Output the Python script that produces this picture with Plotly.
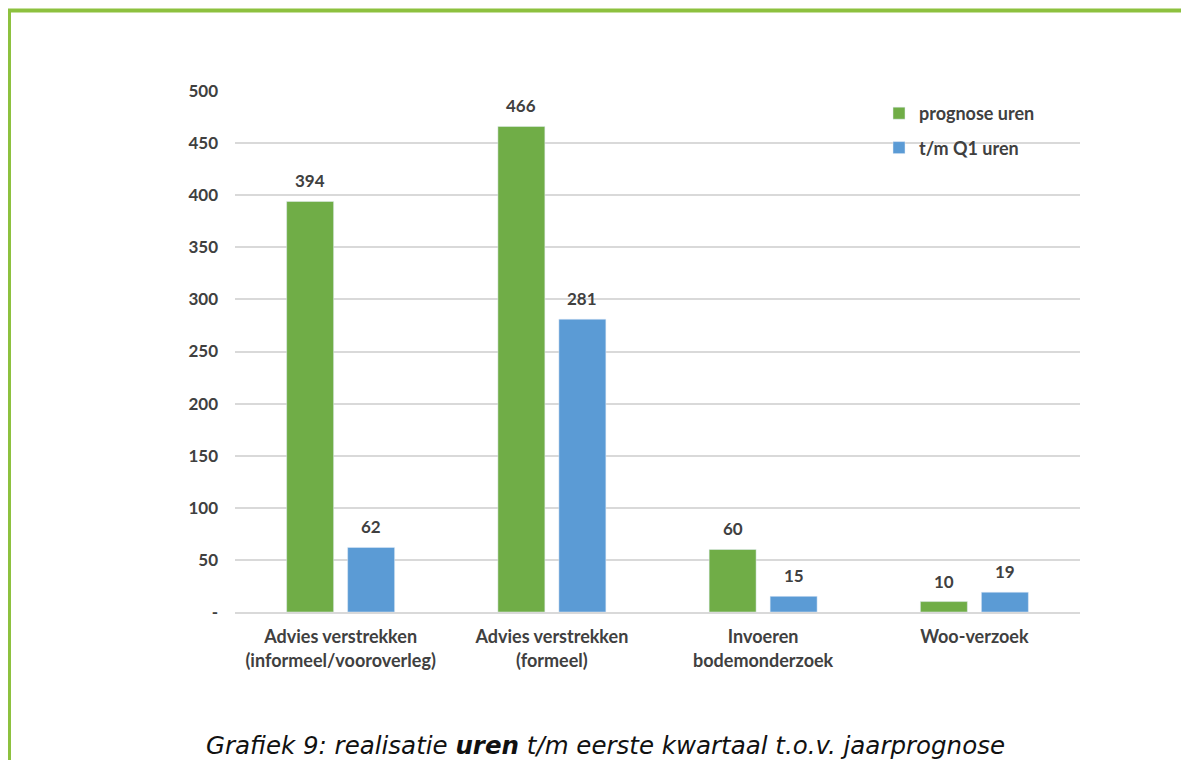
import plotly.graph_objects as go

categories = ["Advies verstrekken<br>(informeel/vooroverleg)", "Advies verstrekken<br>(formeel)",
              "Invoeren<br>bodemonderzoek", "Woo-verzoek"]
prognose = [394, 466, 60, 10]
q1 = [62, 281, 15, 19]
series_names = ["prognose uren", "t/m Q1 uren"]
tick_vals = [0, 50, 100, 150, 200, 250, 300, 350, 400, 450, 500]
tick_text = ["-", "50", "100", "150", "200", "250", "300", "350", "400", "450", "500"]

GREEN = "#70AD47"
BLUE = "#5B9BD5"
TXT = "#404040"
FONT = "Lato"

# the page body adds an 8px offset; design in screen pixels and compensate
OFF = 8
SW, SH = 1189, 760
W, H = SW - OFF, SH - OFF
L, R, T, B = 235, 1080, 91, 612   # plot area in screen pixels


def px(x):
    return (x - L) / (R - L)


def py(y):
    return (B - y) / (B - T)


fig = go.Figure()
fig.add_trace(go.Bar(x=categories, y=prognose, name=series_names[0], marker_color=GREEN,
                     legendgroup="a"))
fig.add_trace(go.Bar(x=categories, y=q1, name=series_names[1], marker_color=BLUE,
                     legendgroup="b"))

BARGAP = 0.4225
GROUPGAP = 0.23
cat_w = (R - L) / len(categories)
slot = cat_w * (1 - BARGAP) / 2

annotations = []
for vals, sign in ((prognose, -1), (q1, 1)):
    for c, v in zip(categories, vals):
        annotations.append(dict(x=c, y=v, xref="x", yref="y", text=str(v), showarrow=False,
                                xanchor="center", yanchor="bottom", xshift=sign * slot / 2,
                                yshift=8,
                                font=dict(family=FONT, size=17, color=TXT, weight="bold")))

annotations.append(dict(
    text="<i>Grafiek 9: realisatie <b>uren</b> t/m eerste kwartaal t.o.v. jaarprognose</i>",
    xref="paper", yref="paper", x=px(605), y=py(745), xanchor="center", yanchor="middle",
    showarrow=False, font=dict(family="DejaVu Sans", size=24.5, color="#111111")))

fig.update_layout(
    width=W, height=H,
    margin=dict(l=L - OFF, r=W - (R - OFF), t=T - OFF, b=H - (B - OFF), autoexpand=False),
    paper_bgcolor="white", plot_bgcolor="white",
    barmode="group", bargap=BARGAP, bargroupgap=GROUPGAP,
    font=dict(family=FONT, size=17, color=TXT),
    showlegend=True,
    legend=dict(x=px(879), y=py(95), xanchor="left", yanchor="top",
                font=dict(family=FONT, size=18, color=TXT, weight="bold"),
                bgcolor="rgba(0,0,0,0)", traceorder="grouped", tracegroupgap=8,
                itemwidth=30),
    yaxis=dict(range=[0, 500], tickvals=tick_vals, ticktext=tick_text,
               showgrid=True, gridcolor="#D9D9D9", gridwidth=1.5, zeroline=False,
               showline=False, ticks="", ticklabelstandoff=16,
               tickfont=dict(family=FONT, size=17, color=TXT, weight="bold")),
    xaxis=dict(showline=True, linecolor="#D9D9D9", linewidth=1.5, ticks="",
               tickfont=dict(family=FONT, size=18, color=TXT, weight="bold"),
               ticklabelstandoff=8),
    shapes=[
        dict(type="line", xref="paper", yref="paper", x0=px(9), x1=px(9), y0=py(9), y1=py(800),
             line=dict(color="#8DC13F", width=4)),
        dict(type="line", xref="paper", yref="paper", x0=px(7), x1=px(1220), y0=py(10.5),
             y1=py(10.5), line=dict(color="#8DC13F", width=4)),
    ],
    annotations=annotations,
)

fig.write_html("out.html")
